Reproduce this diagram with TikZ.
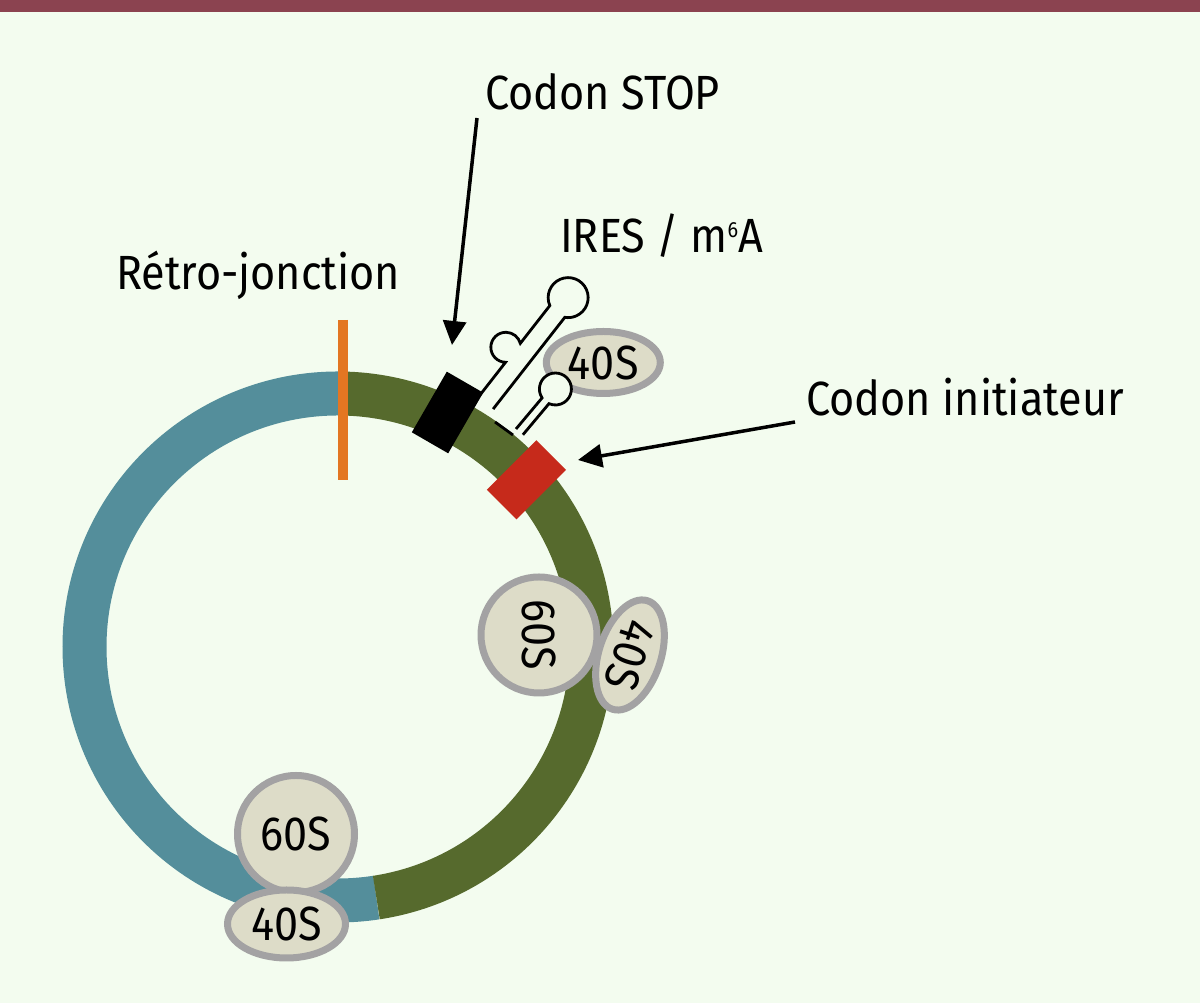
\documentclass[tikz,border=0pt]{standalone}
\usepackage{fontspec}
\setmainfont{Fira Sans}[FakeStretch=0.9]
\usetikzlibrary{arrows.meta,shapes.geometric}
\definecolor{bgc}{HTML}{F3FCEF}
\definecolor{barc}{HTML}{8B4350}
\definecolor{bluec}{HTML}{548E9B}
\definecolor{greenc}{HTML}{566A2D}
\definecolor{orangec}{HTML}{E37622}
\definecolor{redc}{HTML}{C62A1B}
\definecolor{ribofill}{HTML}{DDDCC8}
\definecolor{riboedge}{HTML}{A3A2A3}
\tikzset{
  lbl/.style={inner sep=0pt, anchor=base west, font=\fontsize{48}{56}\selectfont},
  ribo/.style={draw=riboedge, fill=ribofill, line width=7pt, inner sep=0pt, font=\fontsize{48}{56}\selectfont},
  codonbox/.style={inner sep=0pt, minimum width=42pt, minimum height=70pt},
  stemline/.style={line width=2.8pt, black},
  pointer/.style={line width=3.5pt, -{Triangle[length=24pt,width=23pt]}},
}
\begin{document}
\begin{tikzpicture}[x=1pt,y=1pt]
\useasboundingbox (0,0) rectangle (1200,1003);
\fill[bgc] (0,0) rectangle (1200,1003);
\fill[barc] (0,991) rectangle (1200,1003);
% ring
\coordinate (ctr) at (338,356);
\draw[bluec, line width=44pt] (ctr) ++(89:253.5) arc[start angle=89, end angle=278.7, radius=253.5];
\draw[greenc, line width=44pt] (ctr) ++(-81.3:253.5) arc[start angle=-81.3, end angle=89, radius=253.5];
% retro-junction
\draw[orangec, line width=10pt] (342.5,683) -- (342.5,523);
% codons
\node[codonbox, fill=black, rotate=-30] (stopbox) at (447.5,590.5) {};
\node[codonbox, fill=redc, rotate=-45] (initbox) at (526.5,523.2) {};
% 40S near IRES
\node[ribo, ellipse, minimum width=114pt, minimum height=62pt] (s40a) at (603.3,640.5) {40S};
% stem-loops
\begin{scope}[shift={(480,608)}, rotate=52]
  \fill[bgc] (131,-9.5) circle[radius=20];
  \draw[stemline] (0,0) -- (41.5,0) arc[start angle=216.9, end angle=-36.9, radius=15]
    -- (113.4,0) arc[start angle=151.6, end angle=-151.6, radius=20] -- (-3,-19);
\end{scope}
\begin{scope}[shift={(516,574)}, rotate=50]
  \fill[bgc] (56,-4.5) circle[radius=16];
  \draw[stemline] (0,0) -- (40.6,0) arc[start angle=163.7, end angle=-163.7, radius=16] -- (0,-9);
\end{scope}
\draw[stemline] (495,581) -- (513,568);
% ribosomes
\node[ribo, circle, minimum size=116pt, rotate=-90] (s60a) at (539,368) {60S};
\node[ribo, ellipse, minimum width=114pt, minimum height=62pt, rotate=-108] (s40b) at (630,348) {40S};
\node[ribo, circle, minimum size=117pt] (s60c) at (296,169) {60S};
\node[ribo, ellipse, minimum width=118pt, minimum height=68pt] (s40c) at (286.5,79) {40S};
% labels
\node[lbl] (stoplabel) at (485,893) {Codon STOP};
\node[lbl] (ireslabel) at (560,750) {IRES / m\raisebox{15pt}{\fontsize{22}{22}\selectfont 6}A};
\node[lbl] (retrolabel) at (116,713) {Rétro-jonction};
\node[lbl] (initlabel) at (806,587) {Codon initiateur};
% arrows
\coordinate (stoptail) at (477,885);
\coordinate (stoptip) at (452,658);
\coordinate (inittail) at (795,581);
\coordinate (inittip) at (578,543);
\draw[pointer] (stoptail) -- (stoptip);
\draw[pointer] (inittail) -- (inittip);
\end{tikzpicture}
\end{document}
